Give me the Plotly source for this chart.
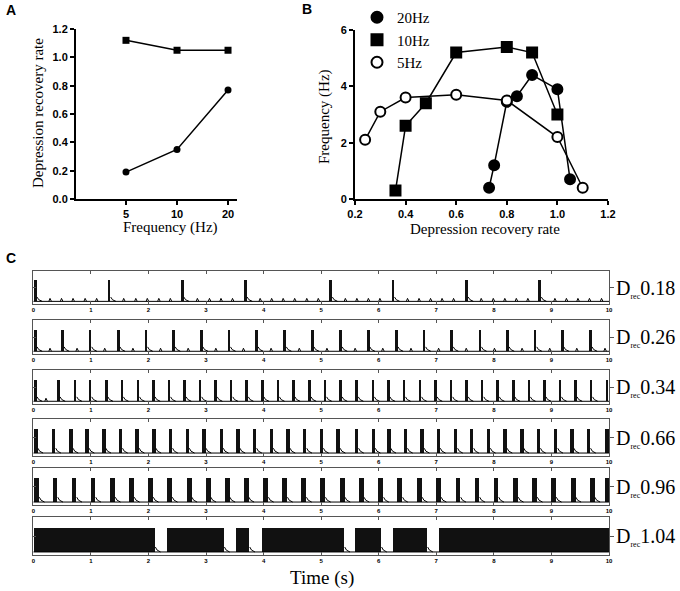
import plotly.graph_objects as go

W, H = 680, 591
SERIF = "Liberation Serif, Times New Roman, serif"
SANS = "Liberation Sans, Arial, sans-serif"

# ---- panel A: depression recovery rate vs stimulation frequency
freq_hz = [5, 10, 20]
rate_squares = [1.12, 1.05, 1.05]
rate_circles = [0.19, 0.35, 0.77]

# ---- panel B: response frequency vs depression recovery rate
hz20_x = [0.73, 0.75, 0.80, 0.84, 0.90, 1.00, 1.05]
hz20_y = [0.4, 1.2, 3.45, 3.65, 4.4, 3.9, 0.7]
hz10_x = [0.36, 0.40, 0.48, 0.60, 0.80, 0.90, 1.00]
hz10_y = [0.3, 2.6, 3.4, 5.2, 5.4, 5.2, 3.0]
hz5_x = [0.24, 0.30, 0.40, 0.60, 0.80, 1.00, 1.10]
hz5_y = [2.1, 3.1, 3.6, 3.7, 3.5, 2.2, 0.4]

# ---- panel C: simulated traces, burst onsets (s) and small EPSP bumps (s)
drec_values = ["0.18", "0.26", "0.34", "0.66", "0.96", "1.04"]

bursts_018 = [0.02, 1.30, 2.57, 3.67, 5.15, 6.23, 7.51, 8.78]
bumps_018 = [0.29, 0.49, 0.69, 0.90, 1.10, 1.57, 1.78, 1.98, 2.18, 2.38,
             2.85, 3.06, 3.26, 3.46, 3.94, 4.14, 4.34, 4.54, 4.75, 4.95,
             5.42, 5.62, 5.82, 6.02, 6.50, 6.70, 6.90, 7.10, 7.30,
             7.78, 7.99, 8.19, 8.39, 8.59, 9.06, 9.26, 9.46, 9.66, 9.87]

bursts_026 = [0.02, 0.49, 0.97, 1.46, 1.94, 2.42, 2.90, 3.38, 3.86, 4.35, 4.83,
              5.32, 5.80, 6.29, 6.77, 7.25, 7.74, 8.22, 8.70, 9.17, 9.66]
bumps_026 = [0.29, 0.76, 1.24, 1.73, 2.21, 2.69, 3.17, 3.65, 4.13, 4.62, 5.10,
             5.59, 6.07, 6.56, 7.04, 7.52, 8.01, 8.49, 8.97, 9.44, 9.93]

bursts_034 = [0.02, 0.42, 0.71, 0.97, 1.25, 1.52, 1.80, 2.07, 2.34, 2.61, 2.88,
              3.15, 3.42, 3.69, 3.96, 4.23, 4.50, 4.78, 5.05, 5.32, 5.60, 5.88,
              6.15, 6.42, 6.70, 6.97, 7.24, 7.51, 7.78, 8.05, 8.32, 8.59, 8.86,
              9.13, 9.40, 9.67, 9.95]
bumps_034 = [0.22]

bursts_066 = [0.02, 0.33, 0.63, 0.91, 1.20, 1.49, 1.78, 2.07, 2.36, 2.65, 2.94,
              3.24, 3.53, 3.82, 4.11, 4.40, 4.69, 4.98, 5.27, 5.59, 5.88, 6.15,
              6.44, 6.73, 7.01, 7.31, 7.59, 7.88, 8.17, 8.46, 8.75, 9.05, 9.33,
              9.62, 9.94]
bumps_066 = []

bursts_096 = [0.02, 0.34, 0.67, 1.00, 1.34, 1.67, 2.00, 2.33, 2.67, 3.00, 3.33,
              3.66, 4.00, 4.33, 4.66, 4.99, 5.33, 5.66, 6.00, 6.33, 6.67, 7.00,
              7.34, 7.67, 8.00, 8.34, 8.67, 9.00, 9.34, 9.67, 9.93]
bumps_096 = []

# D_rec 1.04: long bursting blocks, start and end (s)
blocks_104_on = [0.02, 2.33, 3.53, 3.98, 5.60, 6.25, 7.05]
blocks_104_off = [2.12, 3.32, 3.76, 5.41, 6.05, 6.85, 10.0]

burst_width = [0.045, 0.045, 0.045, 0.06, 0.085]

row_bursts = [bursts_018, bursts_026, bursts_034, bursts_066, bursts_096]
row_bumps = [bumps_018, bumps_026, bumps_034, bumps_066, bumps_096]

# row boxes in pixels (top, bottom)
row_px = [(271, 304), (320, 354), (370, 404), (419, 456), (468, 505), (517, 555)]
C_X0, C_X1 = 33.3, 609

BASE = 0.08
PEAK = 0.72
BUMP = 0.09


def px_x(p):
    return p / W


def px_y(p):
    return 1 - p / H


fig = go.Figure()

# panel A
fig.add_trace(go.Scatter(x=freq_hz, y=rate_squares, mode="lines+markers",
                         line=dict(color="black", width=1.5),
                         marker=dict(symbol="square", size=7, color="black"),
                         xaxis="x", yaxis="y", showlegend=False, cliponaxis=False))
fig.add_trace(go.Scatter(x=freq_hz, y=rate_circles, mode="lines+markers",
                         line=dict(color="black", width=1.5),
                         marker=dict(symbol="circle", size=7, color="black"),
                         xaxis="x", yaxis="y", showlegend=False, cliponaxis=False))

# panel B
series_b = [
    ("20Hz", hz20_x, hz20_y, "circle", "black"),
    ("10Hz", hz10_x, hz10_y, "square", "black"),
    ("5Hz", hz5_x, hz5_y, "circle", "white"),
]
for name, xs, ys, sym, fill in series_b:
    fig.add_trace(go.Scatter(x=xs, y=ys, mode="lines+markers", name=name,
                             line=dict(color="black", width=1.5),
                             marker=dict(symbol=sym, size=10, color=fill,
                                         line=dict(color="black", width=2)),
                             xaxis="x2", yaxis="y2", showlegend=False,
                             cliponaxis=False))
for name, xs, ys, sym, fill in series_b:
    fig.add_trace(go.Scatter(x=[None], y=[None], mode="markers", name=name,
                             marker=dict(symbol=sym, size=11, color=fill,
                                         line=dict(color="black", width=2)),
                             xaxis="x2", yaxis="y2", showlegend=True))


def add_row(i, on, off, bumps):
    ax = str(i + 3)
    xa, ya = "x" + ax, "y" + ax
    # baseline
    fig.add_trace(go.Scatter(x=[0, 10], y=[BASE, BASE], mode="lines",
                             line=dict(color="black", width=1),
                             xaxis=xa, yaxis=ya, showlegend=False))
    # bursts as filled bars
    fig.add_trace(go.Bar(x=[(a + b) / 2 for a, b in zip(on, off)],
                         y=[PEAK - BASE] * len(on), base=BASE,
                         width=[b - a for a, b in zip(on, off)],
                         marker=dict(color="#111111", line=dict(width=0)),
                         xaxis=xa, yaxis=ya, showlegend=False))
    # after-burst decay tails and EPSP bumps
    tx, ty = [], []
    for b in off:
        if b < 9.99:
            tx += [b, b + 0.03, b + 0.09, None]
            ty += [BASE + 0.13, BASE + 0.05, BASE, None]
    for t in bumps:
        tx += [t - 0.02, t, t + 0.025, None]
        ty += [BASE, BASE + BUMP, BASE, None]
    fig.add_trace(go.Scatter(x=tx, y=ty, mode="lines",
                             line=dict(color="black", width=1),
                             xaxis=xa, yaxis=ya, showlegend=False))


for i in range(5):
    on = row_bursts[i]
    off = [t + burst_width[i] for t in on]
    add_row(i, on, off, row_bumps[i])
add_row(5, blocks_104_on, blocks_104_off, [])

layout = dict(
    width=W, height=H,
    margin=dict(l=0, r=0, t=0, b=0, pad=0, autoexpand=False),
    paper_bgcolor="white", plot_bgcolor="white",
    barmode="overlay", bargap=0,
    legend=dict(x=px_x(357), y=px_y(1), xanchor="left", yanchor="top",
                font=dict(family=SERIF, size=15, color="black"),
                bgcolor="rgba(0,0,0,0)", tracegroupgap=0, itemwidth=30),
)

tickfont = dict(family=SANS, size=11, color="black", weight="bold")

layout["xaxis"] = dict(domain=[px_x(76), px_x(237)], type="log",
                       range=[0.404, 1.354], tickvals=freq_hz,
                       ticktext=[str(f) for f in freq_hz],
                       showline=True, linecolor="black", linewidth=2,
                       ticks="outside", ticklen=4, tickwidth=2,
                       tickcolor="black", tickfont=tickfont, automargin=False,
                       showgrid=False, zeroline=False, anchor="y")
layout["yaxis"] = dict(domain=[px_y(199), px_y(29)], range=[0, 1.2],
                       tickvals=[0, 0.2, 0.4, 0.6, 0.8, 1.0, 1.2],
                       tickformat=".1f",
                       showline=True, linecolor="black", linewidth=2,
                       ticks="outside", ticklen=4, tickwidth=2,
                       tickcolor="black", tickfont=tickfont, automargin=False,
                       showgrid=False, zeroline=False, anchor="x")

layout["xaxis2"] = dict(domain=[px_x(355), px_x(608)], range=[0.2, 1.2],
                        tickvals=[0.2, 0.4, 0.6, 0.8, 1.0, 1.2],
                        tickformat=".1f",
                        showline=True, linecolor="black", linewidth=2,
                        ticks="outside", ticklen=4, tickwidth=2,
                        tickcolor="black", tickfont=tickfont, automargin=False,
                        showgrid=False, zeroline=False, anchor="y2")
layout["yaxis2"] = dict(domain=[px_y(199), px_y(30)], range=[0, 6],
                        tickvals=[0, 2, 4, 6],
                        showline=True, linecolor="black", linewidth=2,
                        ticks="outside", ticklen=4, tickwidth=2,
                        tickcolor="black", tickfont=tickfont, automargin=False,
                        showgrid=False, zeroline=False, anchor="x2")

small_tick = dict(family=SANS, size=6, color="black", weight="bold")
for i, (top, bot) in enumerate(row_px):
    n = i + 3
    layout["xaxis%d" % n] = dict(domain=[px_x(C_X0), px_x(C_X1)], range=[0, 10],
                                 tickvals=list(range(11)),
                                 showline=True, mirror="ticks",
                                 linecolor="#555", linewidth=1,
                                 ticks="inside", ticklen=3, tickwidth=1,
                                 tickcolor="#555", tickfont=small_tick,
                                 ticklabelstandoff=0, automargin=False,
                                 showgrid=False, zeroline=False,
                                 anchor="y%d" % n)
    layout["yaxis%d" % n] = dict(domain=[px_y(bot), px_y(top)], range=[0, 1],
                                 tickvals=[0.5], showticklabels=False,
                                 showline=True, mirror=True,
                                 linecolor="#555", linewidth=1,
                                 ticks="inside", ticklen=3, tickwidth=1,
                                 tickcolor="#555", automargin=False,
                                 showgrid=False, zeroline=False,
                                 anchor="x%d" % n)
    # right-hand tick pointing outwards
    layout["yaxis%d" % (n + 6)] = dict(domain=[px_y(bot), px_y(top)],
                                       range=[0, 1], overlaying="y%d" % n,
                                       side="right", anchor="x%d" % n,
                                       tickvals=[0.5], showticklabels=False,
                                       showline=False, ticks="outside",
                                       ticklen=4, tickwidth=1, automargin=False,
                                       tickcolor="#555", showgrid=False,
                                       zeroline=False)

fig.update_layout(**layout)

# dummy trace so the right-hand overlay axes get drawn
for i in range(6):
    fig.add_trace(go.Scatter(x=[None], y=[None], xaxis="x%d" % (i + 3),
                             yaxis="y%d" % (i + 9), showlegend=False))

ann = []
# panel letters
for letter, x, y in [("A", 11, 10), ("B", 307, 9), ("C", 11, 258)]:
    ann.append(dict(text=letter, x=px_x(x), y=px_y(y), xref="paper", yref="paper",
                    xanchor="center", yanchor="middle", showarrow=False,
                    font=dict(family=SANS, size=14, color="black", weight="bold")))
title_font = dict(family=SERIF, size=15, color="black")
titles = [
    ("Depression recovery rate", 38, 113, -90),
    ("Frequency (Hz)", 170, 227, 0),
    ("Frequency (Hz)", 324, 117, -90),
    ("Depression recovery rate", 485, 229, 0),
]
for text, x, y, ang in titles:
    ann.append(dict(text=text, x=px_x(x), y=px_y(y), xref="paper", yref="paper",
                    xanchor="center", yanchor="middle", textangle=ang,
                    showarrow=False, font=title_font))
ann.append(dict(text="Time (s)", x=px_x(322), y=px_y(578),
                xref="paper", yref="paper", xanchor="center", yanchor="middle",
                showarrow=False, font=dict(family=SERIF, size=19, color="black")))
for i, v in enumerate(drec_values):
    top, bot = row_px[i]
    ann.append(dict(text="D<sub><span style='font-size:8px'>rec</span></sub>" + v,
                    x=px_x(614), y=px_y((top + bot) / 2 + 1),
                    xanchor="left", yanchor="middle",
                    xref="paper", yref="paper", showarrow=False,
                    font=dict(family=SERIF, size=20, color="black")))
fig.update_layout(annotations=ann)

# drop the default 8px page margin so the figure sits at the window corner
fig.write_html("out.html", config={"displayModeBar": False},
               post_script="document.body.style.margin='0px';")
